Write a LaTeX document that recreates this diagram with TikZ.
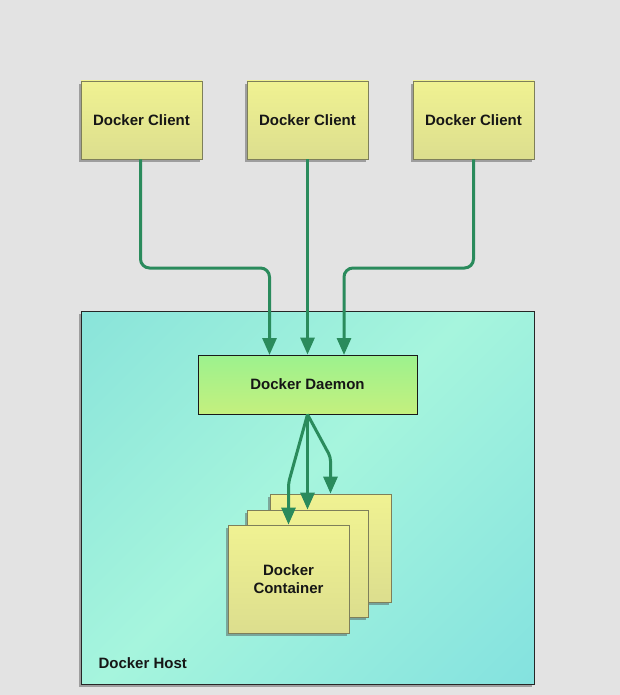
\documentclass[tikz,border=0pt]{standalone}
\usepackage{fontspec}
\setmainfont{Liberation Sans}
\usetikzlibrary{arrows.meta,shadows}
\definecolor{bg}{HTML}{E3E3E3}
\definecolor{ytop}{HTML}{F0F292}
\definecolor{ybot}{HTML}{DCDE8E}
\definecolor{ybord}{HTML}{7E7F5A}
\definecolor{htop}{HTML}{8AE4DA}
\definecolor{hmid}{HTML}{A6F5DD}
\definecolor{hbot}{HTML}{84E2DF}
\definecolor{dtop}{HTML}{9CF28E}
\definecolor{dbot}{HTML}{C4F07E}
\definecolor{arr}{HTML}{2A8B5C}
\definecolor{txt}{HTML}{161616}
\pgfdeclareverticalshading{hostshade}{100bp}{color(0bp)=(hbot); color(15bp)=(hbot); color(52bp)=(hmid); color(85bp)=(htop); color(100bp)=(htop)}
\tikzset{
  shad/.style={drop shadow={shadow xshift=-2pt,shadow yshift=-3pt,opacity=0.45,fill=black!70}},
  ybox/.style={draw=ybord,line width=0.8pt,top color=ytop,bottom color=ybot,inner sep=0pt,
    minimum width=121pt,shad,font=\bfseries\fontsize{15}{18}\selectfont,text=txt,align=center},
  hostbox/.style={draw=black!85,line width=0.9pt,shading=hostshade,shading angle=45,
    inner sep=0pt,minimum width=453pt,minimum height=373pt,shad},
  daemonbox/.style={draw=black!90,line width=0.9pt,top color=dtop,bottom color=dbot,inner sep=0pt,
    minimum width=219pt,minimum height=59pt,font=\bfseries\fontsize{15}{18}\selectfont,text=txt},
  conn/.style={draw=arr,line width=3pt,-{Triangle[width=14pt,length=17pt]},rounded corners=9pt},
}
\begin{document}
\begin{tikzpicture}[x=1pt,y=-1pt]
\fill[bg] (0,0) rectangle (620,695);
\useasboundingbox (0,0) rectangle (620,695);
% clients
\node[ybox,minimum height=78pt] (c1) at (141.5,120) {Docker Client};
\node[ybox,minimum height=78pt] (c2) at (307.5,120) {Docker Client};
\node[ybox,minimum height=78pt] (c3) at (473.5,120) {Docker Client};
% host
\node[hostbox] (host) at (307.5,497.5) {};
\node[anchor=west,font=\bfseries\fontsize{15}{18}\selectfont,text=txt] (hostlabel) at (95,663) {Docker Host};
% daemon
\node[daemonbox] (d) at (307.5,384.5) {Docker Daemon};
% containers
\node[ybox,minimum height=108pt] (k3) at (330.5,548) {};
\node[ybox,minimum height=107pt] (k2) at (307.5,563.5) {};
\node[ybox,minimum height=108pt] (k1) at (288.5,579) {Docker\\Container};
% connectors client -> daemon
\coordinate (dl) at (269.5,355);
\coordinate (dr) at (344,355);
\draw[conn] ([xshift=-1pt]c1.south) |- (dl |- 0,268) -- (dl);
\draw[conn] (c2.south) -- (d.north);
\draw[conn] (c3.south) |- (dr |- 0,268) -- (dr);
% daemon -> containers
\coordinate (bendl) at (288.5,483);
\coordinate (bendr) at (330.5,457);
\draw[conn,rounded corners=4pt] (d.south) -- (bendl) -- (k1.north);
\draw[conn] (d.south) -- (k2.north);
\draw[conn,rounded corners=4pt] (d.south) -- (bendr) -- (k3.north);
\end{tikzpicture}
\end{document}
